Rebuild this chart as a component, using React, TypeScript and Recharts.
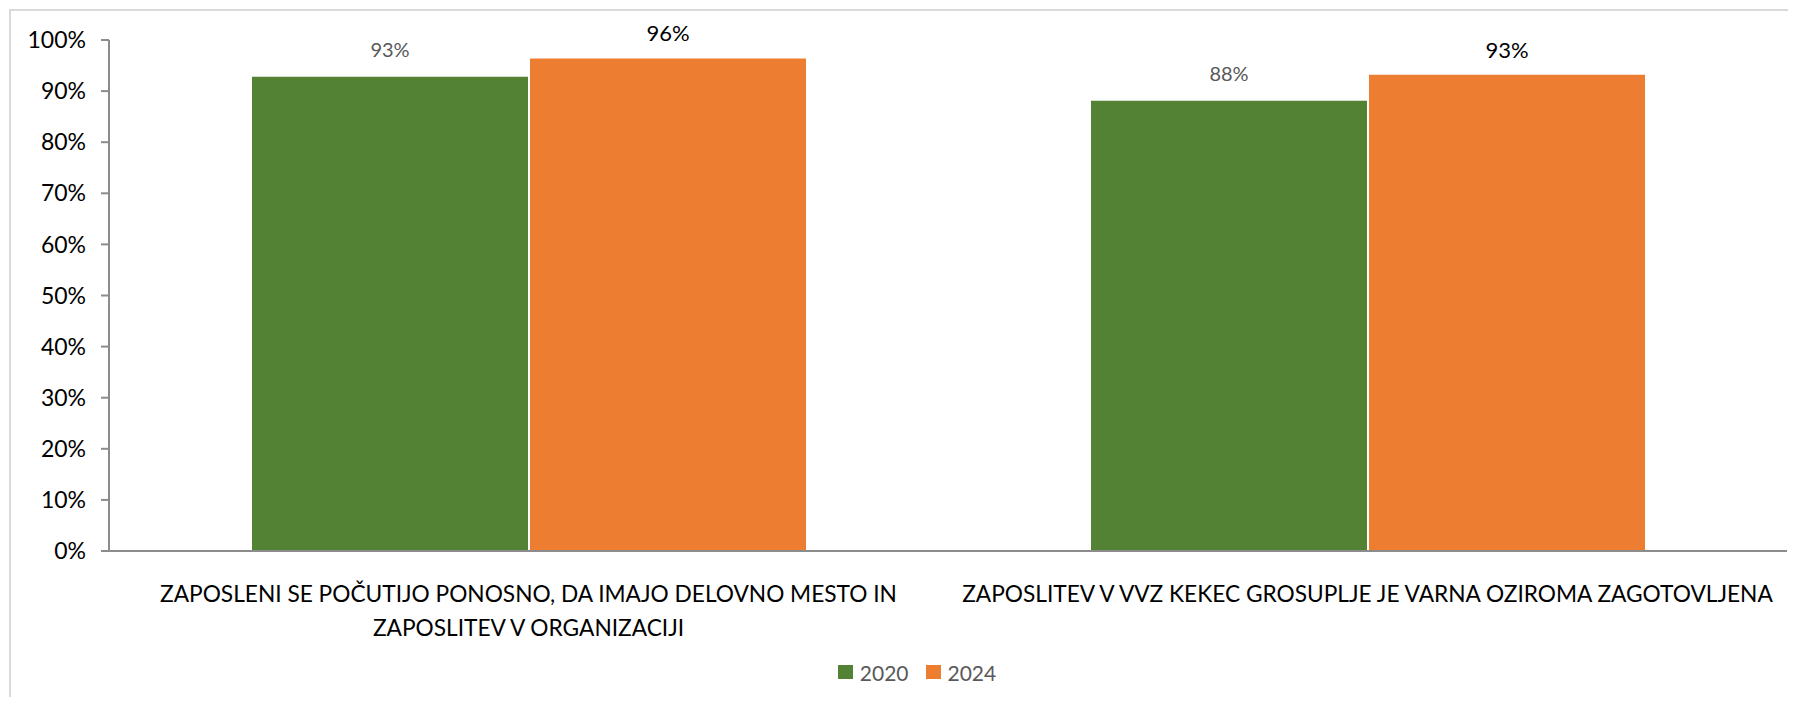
import { Bar, BarChart, LabelList, Legend, XAxis, YAxis } from "recharts";

const CATEGORIES = [
  "ZAPOSLENI SE POČUTIJO PONOSNO, DA IMAJO DELOVNO MESTO IN ZAPOSLITEV V ORGANIZACIJI",
  "ZAPOSLITEV V VVZ KEKEC GROSUPLJE JE VARNA OZIROMA ZAGOTOVLJENA",
];
const VALUES_2020 = [92.8, 88.1];
const VALUES_2024 = [96.4, 93.2];
const Y_TICKS = [0, 10, 20, 30, 40, 50, 60, 70, 80, 90, 100];
// category boundaries, used only for the x-axis tick marks
const BOUNDARY_TICKS = [0, 1, 2];

const GREEN = "#548235";
const ORANGE = "#ED7D31";
const AXIS = "#8c8c8c";
const FONT = "Lato, 'Open Sans', sans-serif";

const data = CATEGORIES.map((name, i) => ({
  name,
  y2020: VALUES_2020[i],
  y2024: VALUES_2024[i],
}));

/** Split a label into lines no longer than maxChars */
function wrapLabel(text: string, maxChars: number): string[] {
  const lines: string[] = [];
  let line = "";
  for (const word of text.split(" ")) {
    const next = line ? `${line} ${word}` : word;
    if (next.length > maxChars && line) {
      lines.push(line);
      line = word;
    } else {
      line = next;
    }
  }
  if (line) lines.push(line);
  return lines;
}

function CategoryTick({ x, y, payload }: any) {
  const lines = wrapLabel(String(payload.value), 62);
  return (
    <text x={x} y={y} textAnchor="middle" fill="#000" fontSize={22.7} fontFamily={FONT}>
      {lines.map((line, i) => (
        <tspan key={line} x={x} dy={i === 0 ? 51 : 34}>
          {line}
        </tspan>
      ))}
    </text>
  );
}

function renderLegend(props: any) {
  const items = props.payload || [];
  return (
    <div
      style={{
        display: "flex",
        justifyContent: "center",
        alignItems: "center",
        height: 26,
        fontFamily: FONT,
      }}
    >
      {items.map((item: any, i: number) => (
        <div
          key={item.value}
          style={{ display: "flex", alignItems: "center", marginLeft: i ? 17 : 0 }}
        >
          <span
            style={{ width: 15, height: 14, backgroundColor: item.color, marginRight: 7 }}
          />
          <span style={{ color: "#595959", fontSize: 21 }}>{item.value}</span>
        </div>
      ))}
    </div>
  );
}

const fmt = (v: any) => `${Math.round(Number(v))}%`;

export default function App() {
  return (
    <div style={{ width: 1780, height: 689, overflow: "hidden", fontFamily: FONT }}>
      <div
        style={{
          marginLeft: 1,
          marginTop: 1,
          width: 1790,
          height: 700,
          borderLeft: "2px solid #d9d9d9",
          borderTop: "2px solid #d9d9d9",
        }}
      >
        <BarChart
          width={1790}
          height={700}
          data={data}
          margin={{ top: 29, right: 14, left: 0, bottom: 40 }}
          barSize={276}
          barGap={2}
        >
          <XAxis
            xAxisId="edge"
            type="number"
            domain={[0, 2]}
            ticks={BOUNDARY_TICKS}
            height={0}
            axisLine={false}
            tickLine={{ stroke: AXIS, strokeWidth: 2 }}
            tickSize={9}
            tick={{ fill: "transparent", fontSize: 1 }}
            allowDataOverflow
          />
          <XAxis
            xAxisId="cat"
            dataKey="name"
            height={120}
            interval={0}
            tickLine={false}
            tickSize={0}
            tickMargin={0}
            axisLine={{ stroke: AXIS, strokeWidth: 2 }}
            tick={<CategoryTick />}
          />
          <YAxis
            domain={[0, 100]}
            ticks={Y_TICKS}
            interval={0}
            width={98}
            tickSize={8}
            tickMargin={15}
            tickFormatter={(v) => `${v}%`}
            axisLine={{ stroke: AXIS, strokeWidth: 2 }}
            tickLine={{ stroke: AXIS, strokeWidth: 2 }}
            tick={{ fill: "#000", fontSize: 23, fontFamily: FONT }}
          />
          <Legend
            layout="horizontal"
            verticalAlign="middle"
            align="center"
            wrapperStyle={{ left: 706, top: 648, width: 400 }}
            content={renderLegend}
          />
          <Bar xAxisId="cat" dataKey="y2020" name="2020" fill={GREEN} isAnimationActive={false}>
            <LabelList
              dataKey="y2020"
              position="top"
              offset={20}
              formatter={fmt}
              fill="#595959"
              fontSize={20}
              fontFamily={FONT}
            />
          </Bar>
          <Bar xAxisId="cat" dataKey="y2024" name="2024" fill={ORANGE} isAnimationActive={false}>
            <LabelList
              dataKey="y2024"
              position="top"
              offset={17}
              formatter={fmt}
              fill="#000"
              fontSize={22}
              fontFamily={FONT}
            />
          </Bar>
        </BarChart>
      </div>
    </div>
  );
}
